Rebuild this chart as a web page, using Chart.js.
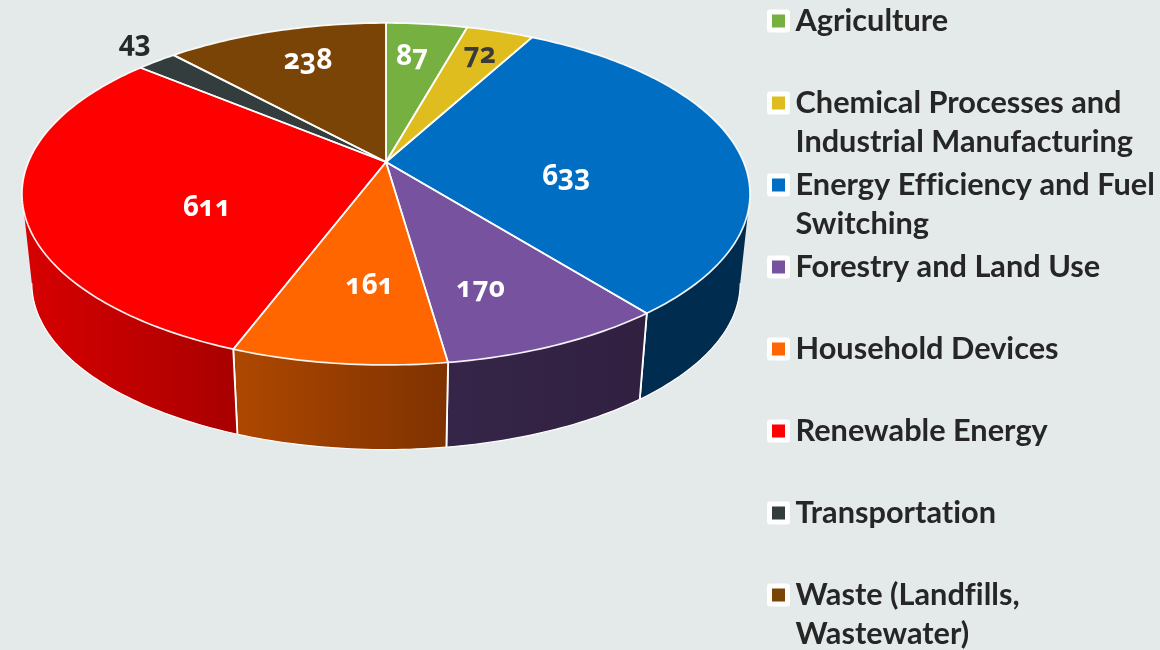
<!DOCTYPE html>
<html><head><meta charset="utf-8">
<style>
html,body{margin:0;padding:0;background:#e4eaea;overflow:hidden}
#wrap{position:relative;width:1160px;height:650px}
canvas{display:block}
.lbl{position:absolute;transform:translate(-50%,-50%);font:700 28px "Open Sans",sans-serif;font-feature-settings:"onum" 1;line-height:1;white-space:nowrap}
</style>
<script src="https://cdn.jsdelivr.net/npm/chart.js@4/dist/chart.umd.js"></script>
</head><body><div id="wrap"><canvas id="c" width="1160" height="650"></canvas></div>
<script>
const categories = ["Agriculture","Chemical Processes and Industrial Manufacturing","Energy Efficiency and Fuel Switching","Forestry and Land Use","Household Devices","Renewable Energy","Transportation","Waste (Landfills, Wastewater)"];
const values = [87,72,633,170,161,611,43,238];
const legendLines = [["Agriculture"],["Chemical Processes and","Industrial Manufacturing"],["Energy Efficiency and Fuel","Switching"],["Forestry and Land Use"],["Household Devices"],["Renewable Energy"],["Transportation"],["Waste (Landfills,","Wastewater)"]];
const colors = ["#76b041","#e0bd1f","#006fc3","#77529f","#ff6600","#ff0000","#333d3d","#7b4407"];
const wallFrom = ["#4a7029","#8e7813","#002c50","#352548","#ae4800","#d80000","#1f2626","#4e2b04"];
const wallTo = ["#4a7029","#8e7813","#002c50","#312040","#7f3200","#a80000","#1f2626","#4e2b04"];
const labelColors = ["#fff","#3a3a3a","#fff","#fff","#fff","#fff","#26292b","#fff"];
const labelR = [.73,.787,.51,.7,.66,.5,1.15,.72];
const labelShift = [[-5,-3],[1,-4],[0,19],[-18,3],[13,-2],[-2,21],[8,-8],[5,-6]];

// projective view of the unit pie
const X0=386,Y0=162,A=357.6,B=165,K=.187,VY=3500,S=.973;
const proj=(a,r=1)=>{const u=r*Math.cos(a),v=r*Math.sin(a),w=1-K*v;return [X0+A*u/w,Y0+B*v/w];};
const low=p=>[X0+(p[0]-X0)*S,VY+(p[1]-VY)*S];
const STEP=Math.PI/180;
function samples(a0,a1){const out=[];const n=Math.max(2,Math.ceil((a1-a0)/STEP));for(let i=0;i<=n;i++)out.push(a0+(a1-a0)*i/n);return out;}

const pie3d={id:'pie3d',
 beforeDatasetDraw(chart,args){
  const ctx=chart.ctx,arcs=chart.getDatasetMeta(args.index).data;
  const minA=Math.asin(K),maxA=Math.PI-minA;
  ctx.save();ctx.lineJoin='round';
  // walls
  arcs.forEach((el,i)=>{
    const {startAngle,endAngle}=el.getProps(['startAngle','endAngle'],true);
    const a0=Math.max(startAngle,minA),a1=Math.min(endAngle,maxA);
    if(a1<=a0)return;
    const top=samples(a0,a1).map(a=>proj(a)),bot=top.map(low);
    const xs=top.concat(bot).map(p=>p[0]);
    const g=ctx.createLinearGradient(Math.min(...xs),0,Math.max(...xs),0);
    g.addColorStop(0,wallFrom[i]);g.addColorStop(1,wallTo[i]);
    ctx.beginPath();top.forEach((p,j)=>j?ctx.lineTo(p[0],p[1]):ctx.moveTo(p[0],p[1]));
    bot.slice().reverse().forEach(p=>ctx.lineTo(p[0],p[1]));ctx.closePath();
    ctx.fillStyle=g;ctx.fill();
    ctx.strokeStyle='#fff';ctx.lineWidth=1.2;
    ctx.beginPath();bot.forEach((p,j)=>j?ctx.lineTo(p[0],p[1]):ctx.moveTo(p[0],p[1]));ctx.stroke();
    ctx.lineWidth=1.8;ctx.beginPath();
    if(a0>minA){ctx.moveTo(top[0][0],top[0][1]);ctx.lineTo(bot[0][0],bot[0][1]);}
    const m=top.length-1;
    if(a1<maxA){ctx.moveTo(top[m][0],top[m][1]);ctx.lineTo(bot[m][0],bot[m][1]);}
    ctx.stroke();
  });
  // top faces
  arcs.forEach((el,i)=>{
    const {startAngle,endAngle}=el.getProps(['startAngle','endAngle'],true);
    ctx.beginPath();ctx.moveTo(X0,Y0);
    samples(startAngle,endAngle).forEach(a=>{const p=proj(a);ctx.lineTo(p[0],p[1]);});
    ctx.closePath();
    ctx.fillStyle=el.options.backgroundColor;ctx.fill();
  });
  arcs.forEach((el,i)=>{
    const {startAngle,endAngle}=el.getProps(['startAngle','endAngle'],true);
    ctx.beginPath();ctx.moveTo(X0,Y0);
    samples(startAngle,endAngle).forEach(a=>{const p=proj(a);ctx.lineTo(p[0],p[1]);});
    ctx.closePath();
    ctx.strokeStyle='rgba(255,255,255,.92)';ctx.lineWidth=1.7;ctx.stroke();
  });
  ctx.restore();
  return false;
 },
 afterDraw(chart){
  const ctx=chart.ctx,arcs=chart.getDatasetMeta(0).data,wrap=document.getElementById('wrap');
  // data labels
  wrap.querySelectorAll('.lbl').forEach(n=>n.remove());
  arcs.forEach((el,i)=>{
    const {startAngle,endAngle}=el.getProps(['startAngle','endAngle'],true);
    const p=proj((startAngle+endAngle)/2,labelR[i]);
    const s=document.createElement('span');s.className='lbl';s.textContent=values[i];
    s.style.left=(p[0]+labelShift[i][0])+'px';s.style.top=(p[1]+labelShift[i][1])+'px';s.style.color=labelColors[i];
    wrap.appendChild(s);
  });
  // legend
  ctx.save();ctx.textBaseline='middle';ctx.textAlign='left';
  ctx.font='700 30.7px Lato, sans-serif';
  ctx.letterSpacing='0.01px';
  legendLines.forEach((lines,i)=>{
    const y=21+82*i;
    ctx.fillStyle='#fff';ctx.beginPath();ctx.roundRect(767,y-11.5,23,23,3);ctx.fill();
    ctx.fillStyle=colors[i];ctx.fillRect(772,y-6.5,13,13);
    ctx.fillStyle='#262626';
    lines.forEach((t,j)=>ctx.fillText(t,795.5,y+39*j));
  });
  ctx.restore();
 }
};
new Chart(document.getElementById('c'),{
 type:'pie',
 data:{labels:categories,datasets:[{data:values,backgroundColor:colors,borderColor:'#fff',borderWidth:1.7}]},
 options:{responsive:false,animation:false,plugins:{legend:{display:false},tooltip:{enabled:false}}},
 plugins:[pie3d]
});
</script></body></html>
